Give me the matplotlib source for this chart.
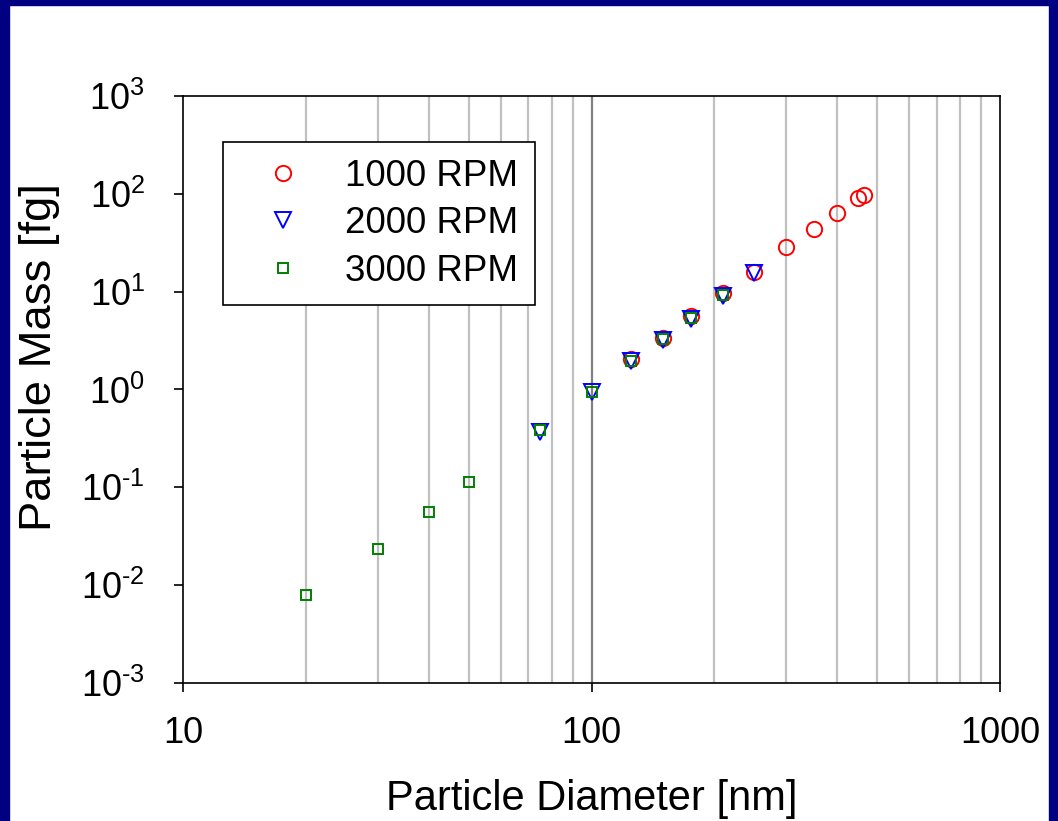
import math
import matplotlib
matplotlib.use("Agg")
import matplotlib.pyplot as plt
from matplotlib.patches import Rectangle
from matplotlib.ticker import FixedLocator, FuncFormatter

plt.rcParams['font.family'] = ['Liberation Sans', 'DejaVu Sans']
plt.rcParams['mathtext.fontset'] = 'custom'
plt.rcParams['mathtext.rm'] = 'Liberation Sans'
plt.rcParams['mathtext.it'] = 'Liberation Sans'
plt.rcParams['mathtext.bf'] = 'Liberation Sans'

# ---- data ----
d_1000 = [125, 150, 175, 210, 250, 300, 350, 400, 450, 465]
m_1000 = [2.05, 3.4, 5.6, 9.6, 16.0, 28.8, 43.4, 63.2, 90.0, 98.0]

d_2000 = [75, 100, 125, 150, 175, 210, 250]
m_2000 = [0.37, 0.95, 1.95, 3.2, 5.2, 9.0, 15.4]

d_3000 = [20, 30, 40, 50, 75, 100, 125, 150, 175, 210]
m_3000 = [0.0080, 0.0234, 0.0556, 0.1125, 0.39, 0.95, 1.95, 3.25, 5.35, 9.2]

labels = ['1000 RPM', '2000 RPM', '3000 RPM']
x_ticks = [10, 100, 1000]
y_exponents = [-3, -2, -1, 0, 1, 2, 3]

W, H = 1058, 821
fig = plt.figure(figsize=(W / 100, H / 100), dpi=100)
fig.patch.set_facecolor('white')

# navy frame
navy = '#000080'
fig.add_artist(Rectangle((0, 0), 9 / W, 1, transform=fig.transFigure, color=navy, zorder=-5))
fig.add_artist(Rectangle((1049 / W, 0), 9 / W, 1, transform=fig.transFigure, color=navy, zorder=-5))
fig.add_artist(Rectangle((0, 1 - 5 / H), 1, 5 / H, transform=fig.transFigure, color=navy, zorder=-5))

ax = fig.add_axes([183 / W, 1 - 683 / H, (1000 - 183) / W, (683 - 96) / H])
ax.set_xscale('log')
ax.set_yscale('log')
ax.set_xlim(10, 1000)
ax.set_ylim(1e-3, 1e3)

# grid lines (vertical only)
for v in [20, 30, 40, 50, 60, 70, 80, 90, 200, 300, 400, 500, 600, 700, 800, 900]:
    ax.axvline(v, color='#c0c0c0', lw=1.6, zorder=0)
ax.axvline(100, color='#808080', lw=1.6, zorder=0)

ax.plot(d_1000, m_1000, linestyle='none', marker='o', markersize=11,
        markerfacecolor='none', markeredgecolor='#ff0000', markeredgewidth=1.4,
        label=labels[0], zorder=3)
ax.plot(d_2000, m_2000, linestyle='none', marker='v', markersize=12,
        markerfacecolor='none', markeredgecolor='#0000ff', markeredgewidth=1.4,
        label=labels[1], zorder=4)
ax.plot(d_3000, m_3000, linestyle='none', marker='s', markersize=7,
        markerfacecolor='none', markeredgecolor='#008000', markeredgewidth=1.4,
        label=labels[2], zorder=5)

for s in ax.spines.values():
    s.set_color('black')
    s.set_linewidth(1.2)


def ylab(v, p):
    e = int(round(math.log10(v)))
    if e < 0:
        return r'$\mathregular{10^{\text{-}%d}}$' % (-e)
    return r'$\mathregular{10^{%d}}$' % e


ax.xaxis.set_major_locator(FixedLocator(x_ticks))
ax.xaxis.set_minor_locator(FixedLocator([]))
ax.xaxis.set_major_formatter(FuncFormatter(lambda v, p: '%d' % round(v)))
ax.yaxis.set_major_locator(FixedLocator([10.0 ** k for k in y_exponents]))
ax.yaxis.set_minor_locator(FixedLocator([]))
ax.yaxis.set_major_formatter(FuncFormatter(ylab))

ax.tick_params(axis='x', which='major', direction='out', length=6.5, width=1.2,
               labelsize=26, pad=17, colors='black')
ax.tick_params(axis='y', which='major', direction='out', length=6.5, width=1.2,
               labelsize=26, pad=21, colors='black')

ax.set_xlabel('Particle Diameter [nm]', fontsize=30)
ax.set_ylabel('Particle Mass [fg]', fontsize=32.7)
ax.xaxis.set_label_coords(0.5, -0.1635)
ax.yaxis.set_label_coords(-0.1506, 0.5545)

fs_leg = 26.5
leg = ax.legend(loc='upper left', bbox_to_anchor=(0.049, 0.9216), borderaxespad=0,
                fontsize=fs_leg, frameon=True, fancybox=False, edgecolor='black',
                framealpha=1, handletextpad=0.5, borderpad=0.45, labelspacing=0.34,
                handlelength=2.36)
leg.get_frame().set_linewidth(1.2)

fig.savefig('out.png', dpi=100, facecolor='white')
